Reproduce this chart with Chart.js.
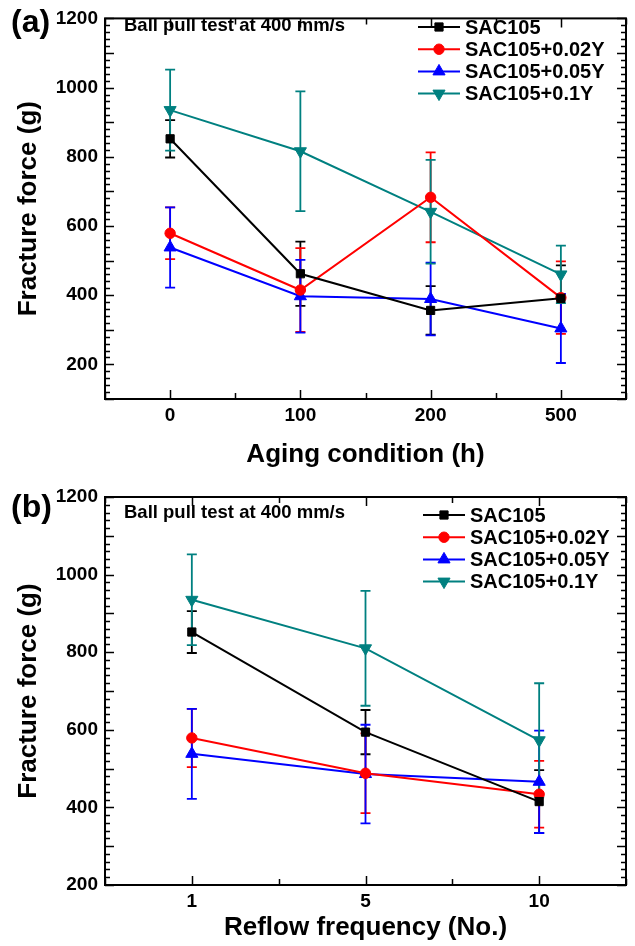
<!DOCTYPE html>
<html>
<head>
<meta charset="utf-8">
<script src="https://cdn.jsdelivr.net/npm/chart.js@4.4.1/dist/chart.umd.min.js"></script>
<style>
  html, body { margin: 0; padding: 0; background: #fff; }
  canvas { display: block; }
</style>
</head>
<body>
<canvas id="chartA" width="635" height="475"></canvas>
<canvas id="chartB" width="635" height="471"></canvas>
<script>
// Series names and colours (same for both panels)
const SERIES_NAMES = ['SAC105', 'SAC105+0.02Y', 'SAC105+0.05Y', 'SAC105+0.1Y'];
const SERIES_COLORS = ['#000000', '#ff0000', '#0000ff', '#008080'];

// (a) aging condition
const AGING_LABELS = ['0', '100', '200', '500'];
const AGING_SAC105 = [852, 462, 356, 391];
const AGING_SAC105_ERR = [54, 93, 70, 95];
const AGING_002Y = [579, 415, 683, 393];
const AGING_002Y_ERR = [75, 121, 130, 105];
const AGING_005Y = [538, 397, 389, 304];
const AGING_005Y_ERR = [116, 105, 105, 100];
const AGING_01Y = [935, 816, 641, 460];
const AGING_01Y_ERR = [117, 173, 150, 83];

// (b) reflow frequency
const REFLOW_LABELS = ['1', '5', '10'];
const REFLOW_SAC105 = [852, 594, 415];
const REFLOW_SAC105_ERR = [54, 57, 81];
const REFLOW_002Y = [579, 488, 434];
const REFLOW_002Y_ERR = [75, 103, 86];
const REFLOW_005Y = [538, 486, 466];
const REFLOW_005Y_ERR = [116, 127, 132];
const REFLOW_01Y = [935, 810, 573];
const REFLOW_01Y_ERR = [117, 148, 147];

const Y_TICKS = [200, 400, 600, 800, 1000, 1200];

const FONT = "'Liberation Sans', Arial, Helvetica, sans-serif";
Chart.defaults.font.family = FONT;
Chart.defaults.font.weight = 'bold';
Chart.defaults.color = '#000';

const POINT_STYLES = [
    { pointStyle: 'rect', pointRadius: 5.8, pointRotation: 0 },
    { pointStyle: 'circle', pointRadius: 5.2, pointRotation: 0 },
    { pointStyle: 'triangle', pointRadius: 7, pointRotation: 0 },
    { pointStyle: 'triangle', pointRadius: 7, pointRotation: 180 }
];

function makeDatasets(values, errors) {
    return values.map((vals, s) => ({
        label: SERIES_NAMES[s],
        data: vals.map((v, i) => ({ x: i, y: v })),
        errors: errors[s],
        borderColor: SERIES_COLORS[s],
        backgroundColor: SERIES_COLORS[s],
        pointBackgroundColor: SERIES_COLORS[s],
        pointBorderColor: SERIES_COLORS[s],
        pointBorderWidth: 1,
        borderWidth: 2,
        showLine: true,
        tension: 0,
        ...POINT_STYLES[s]
    }));
}

// error bars, box frame with inward ticks, legend and notes
const decorPlugin = {
    id: 'decor',
    beforeDatasetsDraw(chart) {
        const { ctx } = chart;
        const xs = chart.scales.x, ys = chart.scales.y;
        chart.data.datasets.forEach(ds => {
            ctx.save();
            ctx.strokeStyle = ds.borderColor;
            ctx.lineWidth = 1.8;
            ds.data.forEach((p, i) => {
                const e = ds.errors[i];
                const px = xs.getPixelForValue(p.x);
                const top = ys.getPixelForValue(p.y + e);
                const bot = ys.getPixelForValue(p.y - e);
                ctx.beginPath();
                ctx.moveTo(px, top); ctx.lineTo(px, bot);
                ctx.moveTo(px - 5, top); ctx.lineTo(px + 5, top);
                ctx.moveTo(px - 5, bot); ctx.lineTo(px + 5, bot);
                ctx.stroke();
            });
            ctx.restore();
        });
    },
    afterDraw(chart, args, opts) {
        const { ctx, chartArea: ca } = chart;
        const xs = chart.scales.x, ys = chart.scales.y;
        ctx.save();
        ctx.strokeStyle = '#000';
        ctx.lineWidth = 2;
        ctx.strokeRect(ca.left, ca.top, ca.right - ca.left, ca.bottom - ca.top);

        // y ticks on left and right, every 20
        ctx.lineWidth = 1.5;
        ctx.beginPath();
        for (let v = ys.min; v <= ys.max; v += 20) {
            const py = Math.round(ys.getPixelForValue(v)) + 0.5;
            const len = v % 100 === 0 ? 9 : 5;
            ctx.moveTo(ca.left, py); ctx.lineTo(ca.left + len, py);
            ctx.moveTo(ca.right, py); ctx.lineTo(ca.right - len, py);
        }
        // x ticks on bottom and top
        for (let v = Math.ceil(xs.min * 2) / 2; v <= xs.max; v += 0.5) {
            const px = Math.round(xs.getPixelForValue(v)) + 0.5;
            const len = Number.isInteger(v) ? 9 : 6;
            ctx.moveTo(px, ca.bottom); ctx.lineTo(px, ca.bottom - len);
            ctx.moveTo(px, ca.top); ctx.lineTo(px, ca.top + len);
        }
        ctx.stroke();

        // panel label and note
        ctx.fillStyle = '#000';
        ctx.textBaseline = 'middle';
        ctx.textAlign = 'left';
        ctx.font = 'bold 32px ' + FONT;
        ctx.fillText(opts.panel, 11, opts.panelY);
        ctx.font = 'bold 18.5px ' + FONT;
        ctx.fillText(opts.note, 124, opts.noteY);

        // legend
        ctx.font = 'bold 20px ' + FONT;
        chart.data.datasets.forEach((ds, i) => {
            const yy = opts.legendY + i * 22.2;
            const lx = opts.legendX;
            ctx.strokeStyle = ds.borderColor;
            ctx.fillStyle = ds.borderColor;
            ctx.lineWidth = 2;
            ctx.beginPath();
            ctx.moveTo(lx, yy); ctx.lineTo(lx + 42, yy);
            ctx.stroke();
            ctx.lineWidth = 1;
            Chart.helpers.drawPoint(ctx, {
                pointStyle: ds.pointStyle,
                radius: ds.pointRadius,
                rotation: ds.pointRotation,
                borderWidth: 1
            }, lx + 21, yy);
            ctx.fillStyle = '#000';
            ctx.fillText(ds.label, lx + 47, yy + 1);
        });
        ctx.restore();
    }
};

function makeChart(id, labels, values, errors, cfg) {
    return new Chart(document.getElementById(id), {
        type: 'scatter',
        data: { datasets: makeDatasets(values, errors) },
        plugins: [decorPlugin],
        options: {
            responsive: false,
            animation: false,
            layout: { padding: { top: cfg.padTop, right: 9, left: 0, bottom: 0 } },
            plugins: {
                legend: { display: false },
                tooltip: { enabled: false },
                decor: cfg.decor
            },
            scales: {
                x: {
                    type: 'linear',
                    min: -0.5,
                    max: labels.length - 0.5,
                    grid: { display: false, drawTicks: false },
                    border: { display: false },
                    afterBuildTicks: s => { s.ticks = labels.map((l, i) => ({ value: i })); },
                    afterFit: s => { s.height = cfg.xHeight; },
                    ticks: {
                        padding: 5,
                        maxRotation: 0,
                        font: { size: 19, weight: 'bold' },
                        callback: v => labels[v]
                    },
                    title: {
                        display: true,
                        text: cfg.xTitle,
                        font: { size: 26, weight: 'bold' },
                        padding: { top: 0, bottom: cfg.xTitlePad }
                    }
                },
                y: {
                    min: cfg.yMin,
                    max: 1200,
                    grid: { display: false, drawTicks: false },
                    border: { display: false },
                    afterBuildTicks: s => { s.ticks = Y_TICKS.map(v => ({ value: v })); },
                    afterFit: s => { s.width = 105; },
                    ticks: {
                        padding: 7,
                        font: { size: 19, weight: 'bold' },
                        callback: v => String(v)
                    },
                    title: {
                        display: true,
                        text: 'Fracture force (g)',
                        font: { size: 26, weight: 'bold' },
                        padding: { top: 13, bottom: 0 }
                    }
                }
            }
        }
    });
}

makeChart('chartA', AGING_LABELS,
    [AGING_SAC105, AGING_002Y, AGING_005Y, AGING_01Y],
    [AGING_SAC105_ERR, AGING_002Y_ERR, AGING_005Y_ERR, AGING_01Y_ERR],
    {
        padTop: 11, xHeight: 76, yMin: 100, xTitle: 'Aging condition (h)', xTitlePad: 5,
        decor: { panel: '(a)', panelY: 23, note: 'Ball pull test at 400 mm/s', noteY: 26, legendX: 418, legendY: 27 }
    });

makeChart('chartB', REFLOW_LABELS,
    [REFLOW_SAC105, REFLOW_002Y, REFLOW_005Y, REFLOW_01Y],
    [REFLOW_SAC105_ERR, REFLOW_002Y_ERR, REFLOW_005Y_ERR, REFLOW_01Y_ERR],
    {
        padTop: 22, xHeight: 61, yMin: 200, xTitle: 'Reflow frequency (No.)', xTitlePad: 3,
        decor: { panel: '(b)', panelY: 33, note: 'Ball pull test at 400 mm/s', noteY: 38, legendX: 423, legendY: 40 }
    });
</script>
</body>
</html>
